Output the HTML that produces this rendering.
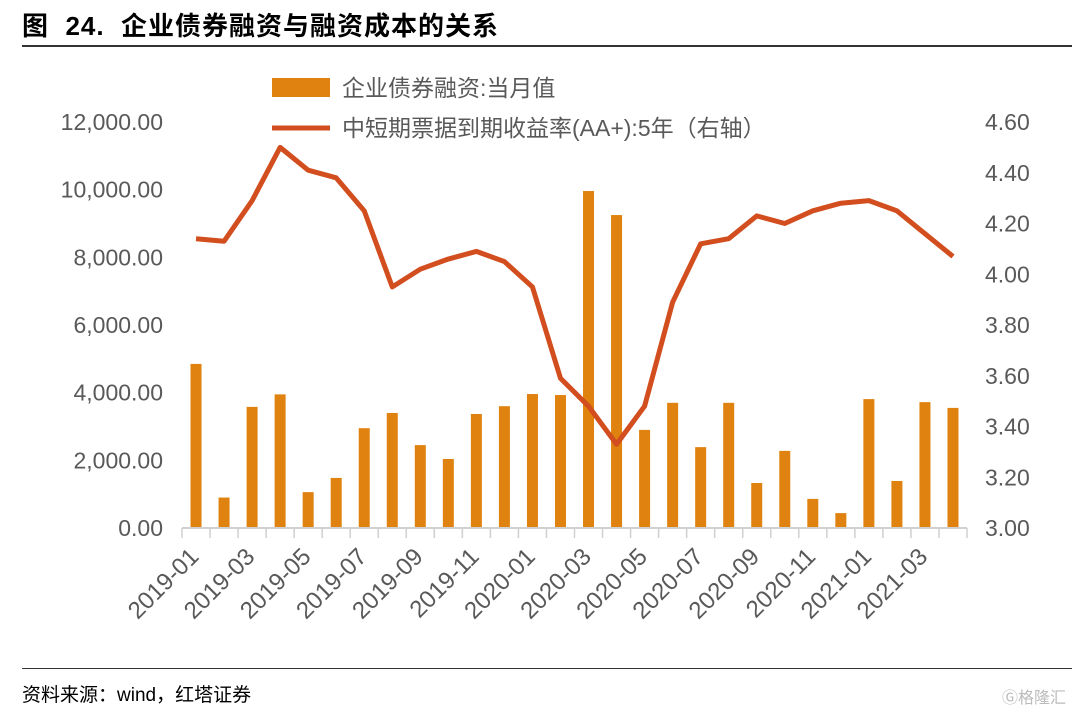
<!DOCTYPE html>
<html><head><meta charset="utf-8"><style>
body{margin:0;background:#fff;width:1080px;height:713px;overflow:hidden;font-family:"Liberation Sans","Noto Sans CJK SC",sans-serif}
</style></head><body>
<div style="position:absolute;left:22px;top:6px;font-size:26px;font-weight:bold;color:#000;letter-spacing:1px">图&nbsp; 24.&nbsp; 企业债券融资与融资成本的关系</div>
<div style="position:absolute;left:22px;top:45px;width:1050px;height:2px;background:#333"></div>
<div style="position:absolute;left:22px;top:668px;width:1050px;height:1px;background:#333"></div>
<div style="position:absolute;left:22px;top:680px;font-size:19px;color:#000">资料来源：wind，红塔证券</div>
<div style="position:absolute;left:1002px;top:684px;font-size:16px;color:#bbb">Ⓖ格隆汇</div>
<svg id="chart" width="1080" height="713" style="position:absolute;left:0;top:0"></svg>
<script>
const categories=["2019-01","2019-02","2019-03","2019-04","2019-05","2019-06","2019-07","2019-08","2019-09","2019-10","2019-11","2019-12","2020-01","2020-02","2020-03","2020-04","2020-05","2020-06","2020-07","2020-08","2020-09","2020-10","2020-11","2020-12","2021-01","2021-02","2021-03","2021-04"];
const barValues=[4850,900,3580,3950,1060,1480,2950,3400,2450,2040,3370,3600,3960,3930,9960,9250,2900,3700,2390,3700,1330,2280,860,440,3810,1390,3720,3550];
const lineValues=[4.14,4.13,4.29,4.50,4.41,4.38,4.25,3.95,4.02,4.06,4.09,4.05,3.95,3.59,3.48,3.33,3.48,3.89,4.12,4.14,4.23,4.20,4.25,4.28,4.29,4.25,4.16,4.07];
const leftTicks=[0,2000,4000,6000,8000,10000,12000];
const rightTicks=[3.0,3.2,3.4,3.6,3.8,4.0,4.2,4.4,4.6];
const NS="http://www.w3.org/2000/svg",svg=document.getElementById('chart');
const x0=182,x1=967,yB=528,yT=122,step=(x1-x0)/categories.length;
const xc=i=>x0+step*(i+0.5);
const yL=v=>yB-(v/12000)*(yB-yT);
const yR=v=>yB-((v-3)/1.6)*(yB-yT);
function mk(t,a,txt){const e=document.createElementNS(NS,t);for(const k in a)e.setAttribute(k,a[k]);if(txt!=null)e.textContent=txt;svg.appendChild(e);return e;}
leftTicks.forEach(v=>{const t=mk('text',{x:163,y:yL(v)+8,'text-anchor':'end','font-size':23,fill:'#595959'},v.toLocaleString('en-US',{minimumFractionDigits:2}));

});
rightTicks.forEach(v=>{const t=mk('text',{x:985,y:yR(v)+8,'font-size':23,fill:'#595959'},v.toFixed(2));

});
barValues.forEach((v,i)=>{const r=mk('rect',{x:xc(i)-5.5,y:yL(v),width:11,height:yB-yL(v),fill:'#e0820f'});

});
const ax=mk('line',{x1:x0,y1:yB,x2:x1,y2:yB,stroke:'#d0d0d0','stroke-width':2});


for(let i=0;i<=categories.length;i++){const tk=mk('line',{x1:x0+step*i,y1:yB,x2:x0+step*i,y2:yB+10,stroke:'#d0d0d0','stroke-width':1.5});

}
categories.forEach((c,i)=>{if(i%2)return;const X=xc(i)+4,Y=yB+30;const t=mk('text',{x:X,y:Y,'text-anchor':'end','font-size':24,fill:'#595959',transform:`rotate(-45 ${X} ${Y})`},c);

});
const pl=mk('polyline',{points:lineValues.map((v,i)=>xc(i)+','+yR(v)).join(' '),fill:'none',stroke:'#d24e1e','stroke-width':5,'stroke-linejoin':'round'});


const lb=mk('rect',{x:272,y:78,width:58,height:19,fill:'#e0820f'});


const lt=mk('text',{x:342,y:96,'font-size':23,fill:'#595959'},'企业债券融资:当月值');


const ll=mk('line',{x1:272,y1:128,x2:330,y2:128,stroke:'#d24e1e','stroke-width':5});


const lt2=mk('text',{x:342,y:136,'font-size':23,fill:'#595959'},'中短期票据到期收益率(AA+):5年（右轴）');


</script>
</body></html>
